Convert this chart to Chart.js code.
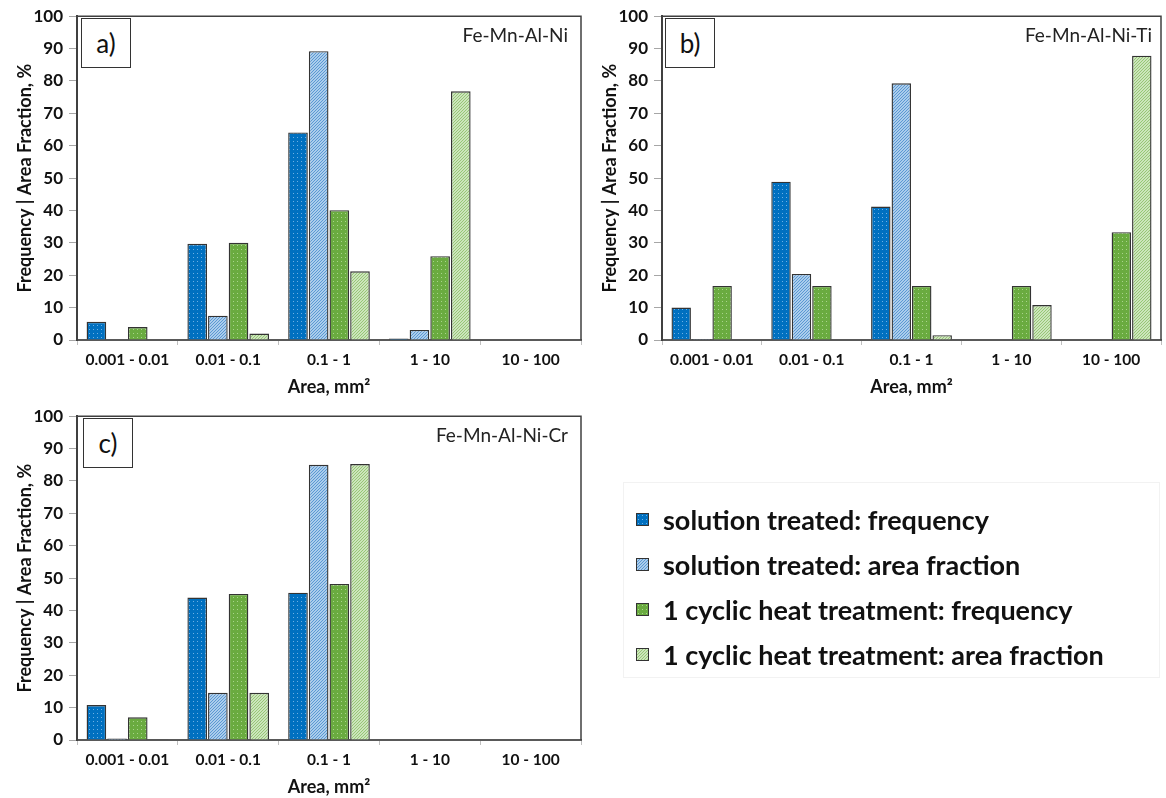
<!DOCTYPE html>
<html><head><meta charset="utf-8">
<script src="https://cdn.jsdelivr.net/npm/chart.js@4"></script>
<style>
html,body{margin:0;padding:0;background:#fff;width:1166px;height:798px;overflow:hidden;font-family:Lato,sans-serif}
canvas.ch{position:absolute}
.lbl{position:absolute;border:1.5px solid #333;box-sizing:border-box;width:50px;height:50px;font:26px Lato,sans-serif;color:#111;display:flex;align-items:center;justify-content:center;background:#fff}
.ttl{position:absolute;font:19px Lato,sans-serif;color:#222;line-height:22px;white-space:nowrap}
.lgbox{position:absolute;left:623px;top:482px;width:537px;height:196px;border:1px solid #f2f2f2;box-sizing:border-box}
.lgrow{position:absolute;left:636px;height:34px;display:flex;align-items:center;white-space:nowrap}
.lgrow canvas{width:13px;height:13px;border:1px solid #333;box-sizing:border-box;margin-right:14px}
.lgrow span{font:bold 27px Lato,sans-serif;color:#111}
</style></head>
<body>
<canvas id="ca" class="ch" width="585" height="398" style="left:0;top:0"></canvas>
<canvas id="cb" class="ch" width="581" height="398" style="left:585px;top:0"></canvas>
<canvas id="cc" class="ch" width="585" height="398" style="left:0;top:400px"></canvas>
<div class="lbl" style="left:81px;top:18px">a)</div>
<div class="lbl" style="left:665px;top:18px">b)</div>
<div class="lbl" style="left:83px;top:418px">c)</div>
<div class="ttl" id="ta" style="right:598px;top:24px"></div>
<div class="ttl" id="tb" style="right:14px;top:24px"></div>
<div class="ttl" id="tc" style="right:598px;top:424px"></div>
<div class="lgbox"></div>
<div id="legend"></div>
<script>
const categories = ['0.001 - 0.01', '0.01 - 0.1', '0.1 - 1', '1 - 10', '10 - 100'];
const seriesNames = ['solution treated: frequency', 'solution treated: area fraction', '1 cyclic heat treatment: frequency', '1 cyclic heat treatment: area fraction'];
const panelTitles = ['Fe-Mn-Al-Ni', 'Fe-Mn-Al-Ni-Ti', 'Fe-Mn-Al-Ni-Cr'];
const xTitle = 'Area, mm²';
const yTitle = 'Frequency | Area Fraction, %';

const aSolFreq = [5.6, 29.7, 64.1, 0.5, 0];
const aSolArea = [0, 7.5, 89.2, 3.1, 0];
const aCycFreq = [4.0, 30.0, 40.1, 25.9, 0];
const aCycArea = [0, 2.0, 21.2, 76.8, 0];

const bSolFreq = [10.0, 48.9, 41.2, 0, 0];
const bSolArea = [0.3, 20.4, 79.3, 0, 0];
const bCycFreq = [16.7, 16.7, 16.7, 16.7, 33.3];
const bCycArea = [0, 0, 1.5, 10.8, 87.8];

const cSolFreq = [10.8, 44.0, 45.5, 0, 0];
const cSolArea = [0.5, 14.6, 85.0, 0, 0];
const cCycFreq = [7.0, 45.1, 48.2, 0, 0];
const cCycArea = [0.2, 14.6, 85.2, 0, 0];

function dotPattern(bg, dot) {
  const c = document.createElement('canvas'); c.width = 4; c.height = 4;
  const g = c.getContext('2d');
  g.fillStyle = bg; g.fillRect(0, 0, 4, 4);
  g.fillStyle = dot; g.fillRect(1, 1, 1, 1);
  return g.createPattern(c, 'repeat');
}
function hatchPattern(bg, line) {
  const c = document.createElement('canvas'); c.width = 3; c.height = 3;
  const g = c.getContext('2d');
  g.fillStyle = bg; g.fillRect(0, 0, 3, 3);
  g.fillStyle = line;
  for (let i = 0; i < 3; i++) g.fillRect(i, 2 - i, 1, 1);
  return g.createPattern(c, 'repeat');
}
const fills = [
  dotPattern('#0070C0', '#6fb0e3'),
  hatchPattern('#ABCDEC', '#5B98D2'),
  dotPattern('#6AAB40', '#a9d48c'),
  hatchPattern('#CCE5BC', '#97C676')
];

const framePlugin = {
  id: 'frame',
  afterDraw(chart) {
    const {ctx, chartArea: a} = chart;
    ctx.save();
    ctx.strokeStyle = '#404040'; ctx.lineWidth = 1.5;
    ctx.beginPath();
    ctx.moveTo(a.left, a.top); ctx.lineTo(a.right, a.top); ctx.lineTo(a.right, a.bottom);
    ctx.stroke();
    ctx.restore();
  }
};

const xTickFont = {family: 'Lato', weight: 'bold', size: 15.5};
const yTickFont = {family: 'Lato', weight: 'bold', size: 17};
const titleFont = {family: 'Lato', weight: 'bold', size: 18};

function makeChart(id, series, pad) {
  new Chart(document.getElementById(id), {
    type: 'bar',
    data: {
      labels: categories,
      datasets: series.map((d, i) => ({label: seriesNames[i], data: d, backgroundColor: fills[i]}))
    },
    options: {
      responsive: false, animation: false, devicePixelRatio: 1,
      layout: {padding: pad},
      plugins: {legend: {display: false}, tooltip: {enabled: false}},
      datasets: {bar: {categoryPercentage: 0.82, barPercentage: 0.95, borderColor: '#333333', borderWidth: 1.4}},
      scales: {
        x: {
          grid: {display: true, drawOnChartArea: false, tickLength: 5, color: '#c0c0c0'},
          border: {color: '#595959', width: 2},
          ticks: {font: xTickFont, color: '#111', padding: 6, maxRotation: 0, autoSkip: false},
          title: {display: true, text: xTitle, font: titleFont, color: '#111', padding: {top: 0, bottom: 0}},
          afterFit(s) { s.height = 58; }
        },
        y: {
          min: 0, max: 100,
          ticks: {stepSize: 10, font: yTickFont, color: '#111', padding: 6},
          grid: {display: true, drawOnChartArea: false, tickLength: 8, color: '#a6a6a6'},
          border: {color: '#404040', width: 2},
          title: {display: true, text: yTitle, font: titleFont, color: '#111', padding: {top: 14, bottom: 0}},
          afterFit(s) { s.width = 77; }
        }
      }
    },
    plugins: [framePlugin]
  });
}

makeChart('ca', [aSolFreq, aSolArea, aCycFreq, aCycArea], {top: 15, right: 4, left: 0, bottom: 0});
makeChart('cb', [bSolFreq, bSolArea, bCycFreq, bCycArea], {top: 15, right: 5, left: 0, bottom: 0});
makeChart('cc', [cSolFreq, cSolArea, cCycFreq, cCycArea], {top: 14, right: 4, left: 0, bottom: 0});

document.getElementById('ta').textContent = panelTitles[0];
document.getElementById('tb').textContent = panelTitles[1];
document.getElementById('tc').textContent = panelTitles[2];

const rowCenters = [519, 564, 609, 654];
const lg = document.getElementById('legend');
seriesNames.forEach((n, i) => {
  const row = document.createElement('div');
  row.className = 'lgrow';
  row.style.top = (rowCenters[i] - 17) + 'px';
  const sw = document.createElement('canvas');
  sw.width = 11; sw.height = 11;
  const g = sw.getContext('2d');
  g.fillStyle = fills[i]; g.fillRect(0, 0, 11, 11);
  const sp = document.createElement('span');
  sp.textContent = n;
  row.appendChild(sw); row.appendChild(sp);
  lg.appendChild(row);
});
</script>
</body></html>
